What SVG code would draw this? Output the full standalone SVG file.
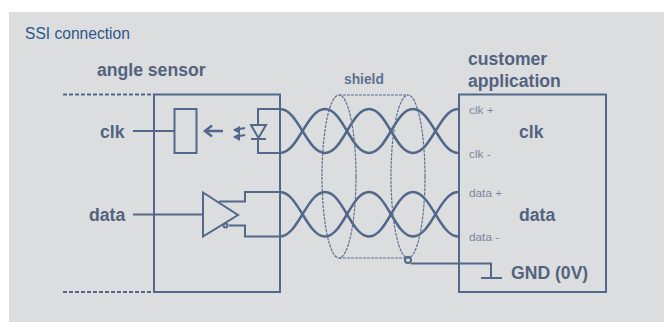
<svg xmlns="http://www.w3.org/2000/svg" width="664" height="322" viewBox="0 0 664 322">
<style>
text{font-family:"Liberation Sans",Arial,sans-serif}
.b{font-size:17.600px;font-weight:bold;fill:#52637f}
.s{font-size:11.800px;fill:#7a879c}
.l{fill:none;stroke:#52688a;stroke-width:2}
.w{fill:none;stroke:#52688a;stroke-width:2.500}
.d{fill:none;stroke:#5f7190;stroke-width:1.200;stroke-dasharray:3 1}
</style>
<rect x="9" y="12" width="655" height="310" fill="#dcdddf"/>
<text x="25" y="38.500" font-size="15.600" fill="#2f5688">SSI connection</text>
<g id="connectors">
<path class="l" d="M133 131H174M133 214.500H203"/>
<g id="pair-clk">
<path class="w" d="M280 109C298 109 307 153 325 153S351 109 369 109 395 153 413 153 440 109 458 109"/>
<path class="w" d="M280 153C298 153 307 109 325 109S351 153 369 153 395 109 413 109 440 153 458 153"/>
</g>
<g id="pair-data">
<path class="w" d="M280 192C298 192 307 236.500 325 236.500S351 192 369 192 395 236.500 413 236.500 440 192 458 192"/>
<path class="w" d="M280 236.500C298 236.500 307 192 325 192S351 236.500 369 236.500 395 192 413 192 440 236.500 458 236.500"/>
</g>
<path class="l" d="M258 125V109H280M258 139V153H280M219 201.500H245V192H280M229 225.500H245V236.500H280"/>
<path class="l" d="M411 263.500H491V278M481 278H502"/>
</g>
<g id="angle-sensor">
<path class="l" stroke-dasharray="4 2" d="M63 94.500H154M63 292H154"/>
<rect class="l" x="154" y="94.500" width="126" height="197.500"/>
<text class="b" x="97" y="76">angle sensor</text>
<text class="b" x="100" y="138">clk</text>
<text class="b" x="89" y="221">data</text>
</g>
<g id="receiver"><rect class="l" x="174.500" y="109" width="22" height="44"/></g>
<g id="optical">
<path class="l" style="stroke-width:2.500" d="M223 131H206M212 125.500L205 131L212 136.500"/>
<path class="l" d="M234 130L245 128M234 137L245 135"/>
<path fill="#52688a" d="M233 130L240 126V134ZM233 137L240 133V141Z"/>
<path class="l" d="M251 125H266L258.500 138ZM251 139H266"/>
</g>
<g id="driver">
<path class="l" d="M203 192.500V236.500L238 215Z"/>
<circle class="l" cx="225.500" cy="225.500" r="2"/>
</g>
<g id="shield">
<ellipse class="d" cx="339" cy="176.500" rx="17" ry="81.500"/>
<ellipse class="d" cx="408" cy="176.500" rx="17" ry="81.500"/>
<path class="d" d="M339 95H408M339 258H408"/>
<circle class="l" cx="408" cy="260" r="3"/>
<text x="344" y="84" font-size="13.800" font-weight="bold" fill="#5f7190">shield</text>
</g>
<g id="customer-application">
<rect class="l" x="459" y="94.500" width="147" height="197.500"/>
<text class="b" x="468" y="65">customer</text>
<text class="b" x="468" y="87">application</text>
<text class="s" x="469" y="114">clk +</text>
<text class="s" x="469" y="158">clk -</text>
<text class="s" x="469" y="197">data +</text>
<text class="s" x="469" y="241">data -</text>
<text class="b" x="519" y="138">clk</text>
<text class="b" x="519" y="221">data</text>
<text class="b" x="511" y="279">GND (0V)</text>
</g>
</svg>
